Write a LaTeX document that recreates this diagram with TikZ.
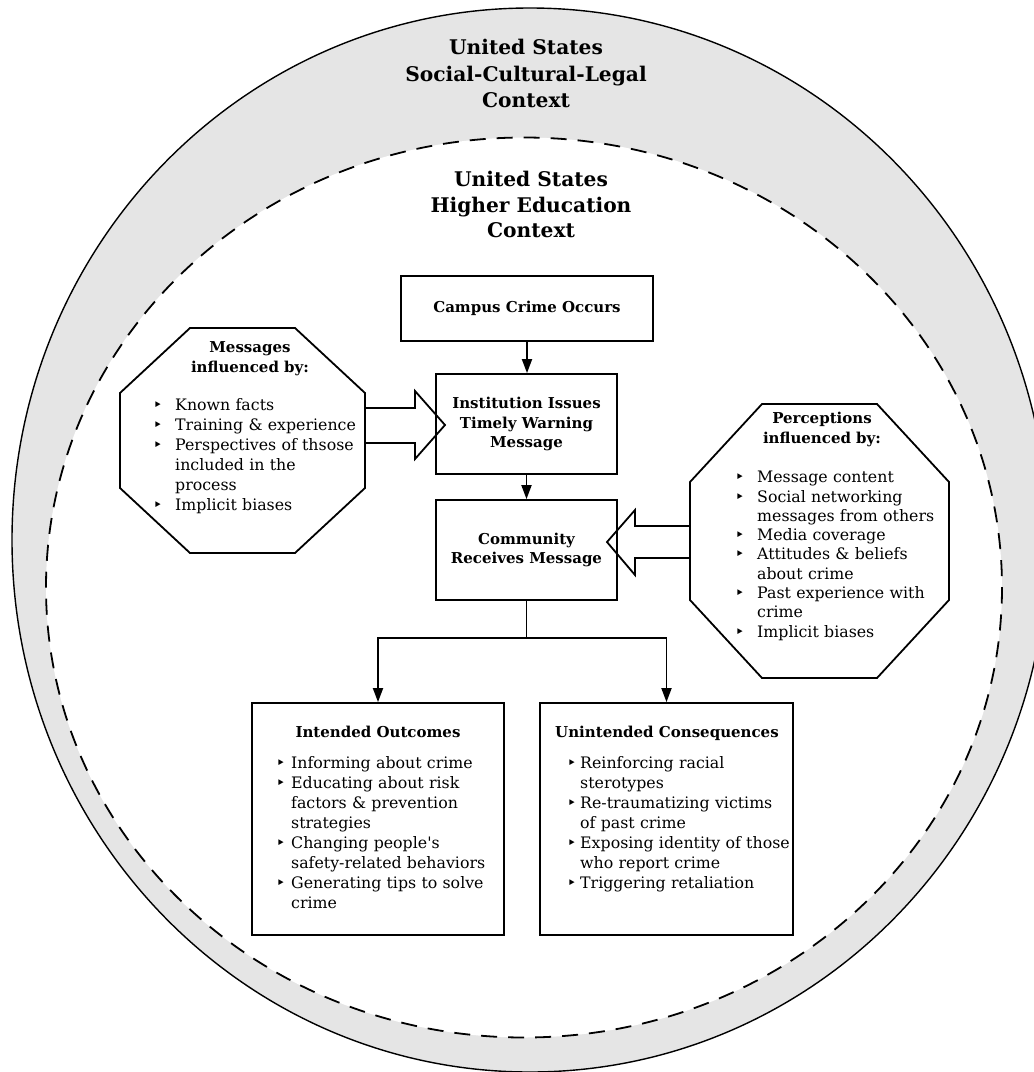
\documentclass[tikz,border=0pt]{standalone}
\usepackage{fontspec}
\setmainfont{DejaVu Serif}[Ligatures=TeXOff]
\newfontfamily\symf{DejaVu Sans}
\usetikzlibrary{arrows.meta}
\definecolor{ringgray}{HTML}{E5E5E5}
\newcommand\bul[1]{\makebox[#1][l]{\hspace{-2pt}\symf ‣}}
\newcommand\cont[1]{\hspace*{#1}}
\begin{document}
\begin{tikzpicture}[x=1pt,y=-1pt,line join=miter,
  lw/.style={line width=1.8pt},
  box/.style={draw,lw,inner sep=0pt,align=center,font=\bfseries\fontsize{15}{19.5}\selectfont},
  ttl/.style={inner sep=0pt,align=center,anchor=north,font=\bfseries\fontsize{20.2}{26.5}\selectfont},
  hd/.style={inner sep=0pt,align=center,anchor=north,font=\bfseries\fontsize{15}{20}\selectfont},
  blk/.style={inner sep=0pt,align=left,anchor=north west,text width=260pt,font=\fontsize{15.8}{20}\selectfont},
  arr/.style={lw,-{Triangle[length=14pt,width=10pt]}},
  barrow/.style={lw}]
\useasboundingbox (0,0) rectangle (1034,1072);
% context ellipses
\draw[line width=1.4pt,fill=ringgray] (530,540) ellipse [x radius=518,y radius=532];
\draw[line width=1.8pt,dash pattern=on 16pt off 11pt,fill=white] (524,587.5) ellipse [x radius=478,y radius=450];
% titles
\node[ttl] (t1) at (526,36) {\strut United States\\Social-Cultural-Legal\\Context};
\node[ttl,font=\bfseries\fontsize{20.2}{25.5}\selectfont] (t2) at (531,168.5) {\strut United States\\Higher Education\\Context};
% flow boxes
\node[box,minimum width=252pt,minimum height=65pt] (campus) at (527,308.5) {Campus Crime Occurs};
\node[box,minimum width=181pt,minimum height=100pt] (inst) at (526.5,424) {Institution Issues\\Timely Warning\\Message};
\node[box,minimum width=181pt,minimum height=100pt] (comm) at (526.5,550) {Community\\Receives Message};
\node[draw,lw,minimum width=252pt,minimum height=232pt,inner sep=0pt] (intended) at (378,819) {};
\node[draw,lw,minimum width=253pt,minimum height=232pt,inner sep=0pt] (unint) at (666.5,819) {};
% connectors
\draw[arr] (campus.south) -- (campus.south |- inst.north);
\draw[arr] (inst.south) -- (comm.north);
\coordinate (split) at (526.5,638);
\draw[lw] (comm.south) -- (split);
\draw[arr] (split) -| (intended.north);
\draw[arr] (split) -| (unint.north);
% left octagon
\draw[lw] (190,328) -- (295,328) -- (365,393) -- (365,488) -- (295,553) -- (190,553) -- (120,488) -- (120,393) -- cycle;
\coordinate (moct) at (365,425.5);
\node[hd] (mhead) at (250,338) {\strut Messages\\influenced by:};
\node[blk] (mlist) at (155,396) {\strut\bul{20pt}Known facts\\
\bul{20pt}Training \& experience\\
\bul{20pt}Perspectives of thsose\\
\cont{20pt}included in the\\
\cont{20pt}process\\
\bul{20pt}Implicit biases};
% left block arrow
\draw[barrow] (moct |- 0,408) -- (415,408) -- (415,391) -- (445,425) -- (415,459) -- (415,443) -- (moct |- 0,443);
% right octagon
\draw[lw] (762,404) -- (877,404) -- (949,482) -- (949,600) -- (877,678) -- (762,678) -- (690,600) -- (690,482) -- cycle;
\coordinate (poct) at (690,542);
\node[hd] (phead) at (822,409) {\strut Perceptions\\influenced by:};
\node[blk,font=\fontsize{15.8}{19.3}\selectfont] (plist) at (737,469) {\strut\bul{20pt}Message content\\
\bul{20pt}Social networking\\
\cont{20pt}messages from others\\
\bul{20pt}Media coverage\\
\bul{20pt}Attitudes \& beliefs\\
\cont{20pt}about crime\\
\bul{20pt}Past experience with\\
\cont{20pt}crime\\
\bul{20pt}Implicit biases};
% right block arrow
\draw[barrow] (poct |- 0,526) -- (635,526) -- (635,510) -- (607,542) -- (635,575) -- (635,558) -- (poct |- 0,558);
% outcome texts
\node[hd] (ihead) at (378,723) {\strut Intended Outcomes};
\node[blk,font=\fontsize{15.8}{20.1}\selectfont] (ilist) at (278,754) {\strut\bul{13pt}Informing about crime\\
\bul{13pt}Educating about risk\\
\cont{13pt}factors \& prevention\\
\cont{13pt}strategies\\
\bul{13pt}Changing people's\\
\cont{13pt}safety-related behaviors\\
\bul{13pt}Generating tips to solve\\
\cont{13pt}crime};
\node[hd] (uhead) at (667,723) {\strut Unintended Consequences};
\node[blk,font=\fontsize{15.8}{20.1}\selectfont] (ulist) at (569,754) {\strut\bul{11pt}Reinforcing racial\\
\cont{11pt}sterotypes\\
\bul{11pt}Re-traumatizing victims\\
\cont{11pt}of past crime\\
\bul{11pt}Exposing identity of those\\
\cont{11pt}who report crime\\
\bul{11pt}Triggering retaliation};
\end{tikzpicture}
\end{document}
